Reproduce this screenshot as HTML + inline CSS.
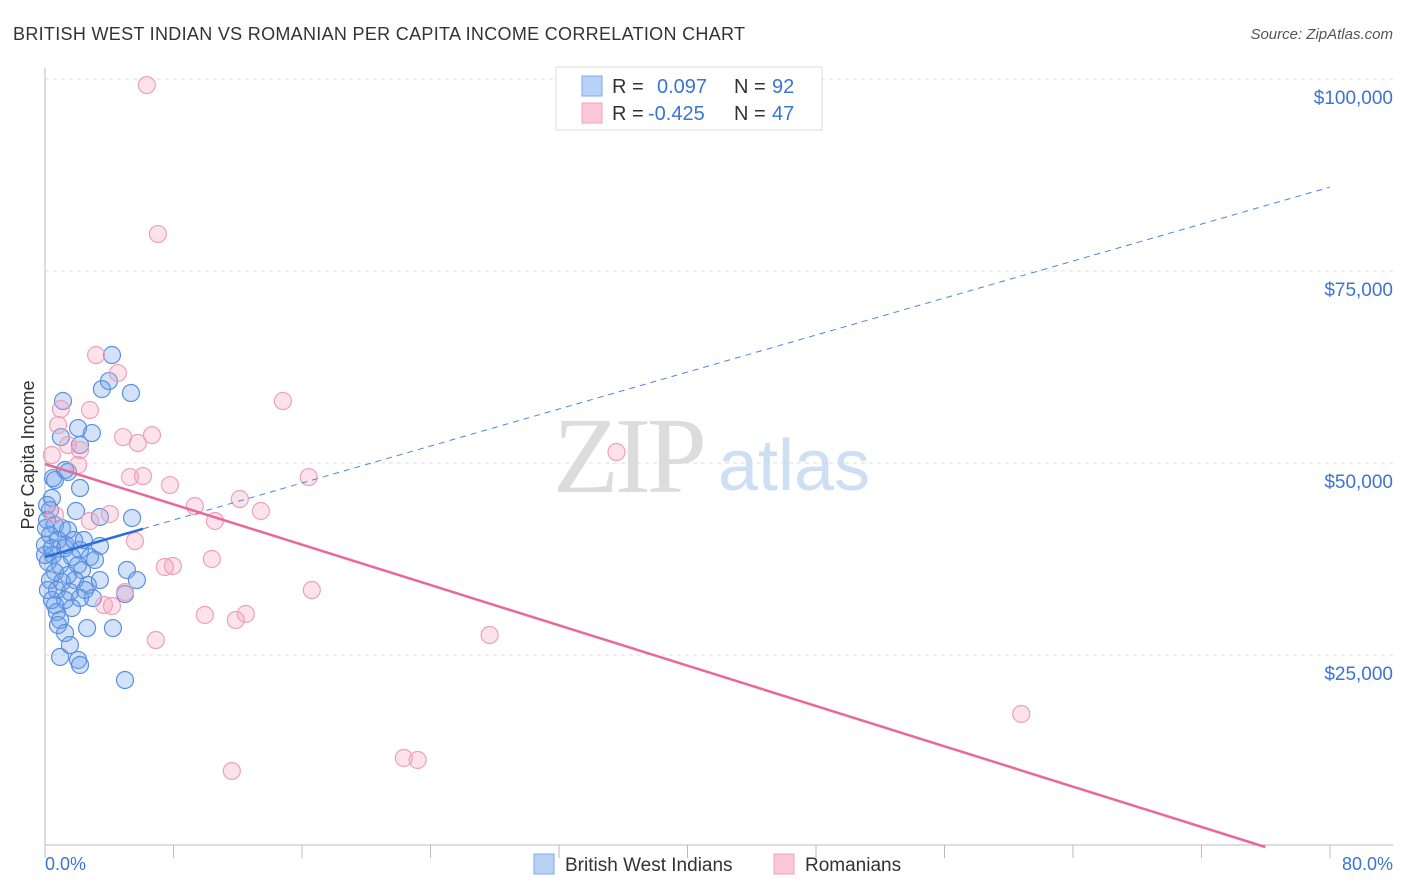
<!DOCTYPE html>
<html><head><meta charset="utf-8"><style>
body{margin:0;background:#fff;width:1406px;height:892px;overflow:hidden;font-family:"Liberation Sans",sans-serif;}
svg{position:absolute;left:0;top:0}
</style></head><body>
<svg id="c" width="1406" height="892">
<text x="13" y="40" font-size="18" fill="#333" textLength="732">BRITISH WEST INDIAN VS ROMANIAN PER CAPITA INCOME CORRELATION CHART</text>
<text x="1393" y="39" font-size="15" fill="#555" font-style="italic" text-anchor="end">Source: ZipAtlas.com</text>
<g>
<text x="553" y="492" font-size="108" font-family="Liberation Serif,serif" fill="#dcdcdc" letter-spacing="-4">ZIP</text>
<text x="718" y="490" font-size="72" fill="#cddff3">atlas</text>
</g>
<g id="grid"></g><g id="axes"></g><g id="pts"></g><g id="lines"></g>
<text transform="translate(34,455) rotate(-90)" font-size="18" fill="#333" text-anchor="middle">Per Capita Income</text>
<text x="45" y="870" font-size="18" fill="#3a74d4">0.0%</text>
<text x="1393" y="870" font-size="18" fill="#3a74d4" text-anchor="end">80.0%</text>
<g>
<rect x="556" y="67" width="266" height="63" fill="#fff" stroke="#ddd"/>
<rect x="582" y="76" width="20" height="20" fill="#b8d2f5" stroke="#7fa8e8"/>
<rect x="582" y="103" width="20" height="20" fill="#fac8d8" stroke="#f0a0bc"/>
<text x="612" y="93" font-size="20" fill="#333">R = </text><text x="657" y="93" font-size="20" fill="#3a74d4">0.097</text>
<text x="734" y="93" font-size="20" fill="#333">N = </text><text x="772" y="93" font-size="20" fill="#3a74d4">92</text>
<text x="612" y="120" font-size="20" fill="#333">R = </text><text x="648" y="120" font-size="20" fill="#3a74d4">-0.425</text>
<text x="734" y="120" font-size="20" fill="#333">N = </text><text x="772" y="120" font-size="20" fill="#3a74d4">47</text>
</g>
<g>
<rect x="534" y="854" width="20" height="20" fill="#b8d2f5" stroke="#7fa8e8"/>
<text x="565" y="871" font-size="19" fill="#333">British West Indians</text>
<rect x="774" y="854" width="20" height="20" fill="#fac8d8" stroke="#f0a0bc"/>
<text x="805" y="871" font-size="19" fill="#333">Romanians</text>
</g>
</svg>
<script>
const yTicks=[25000,50000,75000,100000];
const yTickLabels=["$25,000","$50,000","$75,000","$100,000"];
const blueX=[4.17,3.98,3.54,5.35,1.12,2.06,2.92,.99,2.18,.5,1.43,2.18,.43,1.93,3.42,5.42,.31,.13,.62,1.06,1.43,.31,.81,0,1.25,2.18,3.42,.5,1.68,2.8,.18,.94,2.06,3.11,.62,1.43,2.3,5.1,5.72,.31,1.06,1.86,2.67,3.42,.74,1.55,2.49,4.98,.43,1.25,2.18,2.98,.74,.94,.81,2.62,4.23,1.25,1.55,.94,2.06,2.18,4.98,.62,1.68,.18,0,.13,.62,1.25,1.3,1.81,2.42,.06,.43];
const blueY=[64060,60670,59630,59110,58070,54550,53900,53380,52340,48040,48830,46740,45440,43750,42970,42840,43880,42580,41920,41530,41270,40620,39970,39320,38930,38670,39190,38020,37760,37760,37110,36720,36720,37370,35800,35410,36070,36070,34760,34760,34500,34760,34110,34760,33460,33200,33460,32940,32160,32160,32420,32420,30600,29560,28900,28510,28510,27860,26300,24740,24350,23700,21740,31510,31120,33460,38020,44530,47780,49090,39320,39970,39970,41530,38930];
const pinkX=[6.34,7.03,3.18,4.54,14.81,.99,2.8,.81,4.86,6.66,1.43,5.78,2.18,.43,2.06,5.29,6.1,7.78,16.42,35.58,9.33,12.13,13.44,10.58,4.04,2.8,.62,5.6,7.46,7.96,10.39,16.61,4.98,3.67,4.17,9.95,11.88,12.5,6.9,27.68,60.78,11.63,22.34,23.2];
const pinkY=[99210,79810,64060,61710,58070,57030,56900,54940,53380,53640,52340,52600,51690,51040,49740,48170,48300,47130,48170,51430,44400,45310,43750,42450,43360,42450,43230,39840,36460,36590,37500,33460,33200,31510,31380,30210,29560,30340,26950,27600,17320,9900,11590,11330];
const blueFit=[37760,85930]; // y at x=0 and x=80
const blueSolidEnd=6.1;
const pinkFit=[49870,-2645]; // y at x=0 and x=80
const X0=45,X1=1330,Y0=847,PX=(X1-X0)/80,PY=192/25000;
const sx=v=>X0+v*PX, sy=v=>Y0-v*PY;
const NS="http://www.w3.org/2000/svg";
function mk(t,a,p){const e=document.createElementNS(NS,t);for(const k in a)e.setAttribute(k,a[k]);p.appendChild(e);return e;}
const grid=document.getElementById('grid'),axes=document.getElementById('axes'),pts=document.getElementById('pts'),lines=document.getElementById('lines');
yTicks.forEach((t,i)=>{
 const l=mk('line',{x1:45,x2:1393,y1:sy(t),y2:sy(t),stroke:'#ddd','stroke-dasharray':'4,4'},grid);
 
 
 const tx=mk('text',{x:1393,y:sy(t)+25,'font-size':19,fill:'#3a74d4','text-anchor':'end'},grid);
 tx.textContent=yTickLabels[i];
 
 
});
const ya=mk('line',{x1:45,x2:45,y1:68,y2:845,stroke:'#bbb'},axes);


const xa=mk('line',{x1:45,x2:1393,y1:845,y2:845,stroke:'#bbb'},axes);


for(let i=0;i<=10;i++){const tk=mk('line',{x1:sx(i*8),x2:sx(i*8),y1:845,y2:858,stroke:'#bbb'},axes);
 
 }
blueX.forEach((x,i)=>{const c=mk('circle',{cx:sx(x),cy:sy(blueY[i]),r:8.5,fill:'rgba(110,160,235,0.3)',stroke:'#5a90e0','stroke-width':1.2},pts);
 
 });
pinkX.forEach((x,i)=>{const c=mk('circle',{cx:sx(x),cy:sy(pinkY[i]),r:8.5,fill:'rgba(245,160,190,0.3)',stroke:'#eea0bb','stroke-width':1.2},pts);
 
 });
const by=x=>blueFit[0]+(blueFit[1]-blueFit[0])*x/80;
const b1=mk('line',{x1:sx(0),y1:sy(by(0)),x2:sx(blueSolidEnd),y2:sy(by(blueSolidEnd)),stroke:'#2a6fd6','stroke-width':2.5},lines);


const b2=mk('line',{x1:sx(blueSolidEnd),y1:sy(by(blueSolidEnd)),x2:sx(80),y2:sy(by(80)),stroke:'#4a86e0','stroke-width':1,'stroke-dasharray':'6,5'},lines);


const pEnd=80*pinkFit[0]/(pinkFit[0]-pinkFit[1]);
const p1=mk('line',{x1:sx(0),y1:sy(pinkFit[0]),x2:sx(pEnd),y2:sy(0),stroke:'#e8689a','stroke-width':2.5},lines);


</script>
</body></html>
